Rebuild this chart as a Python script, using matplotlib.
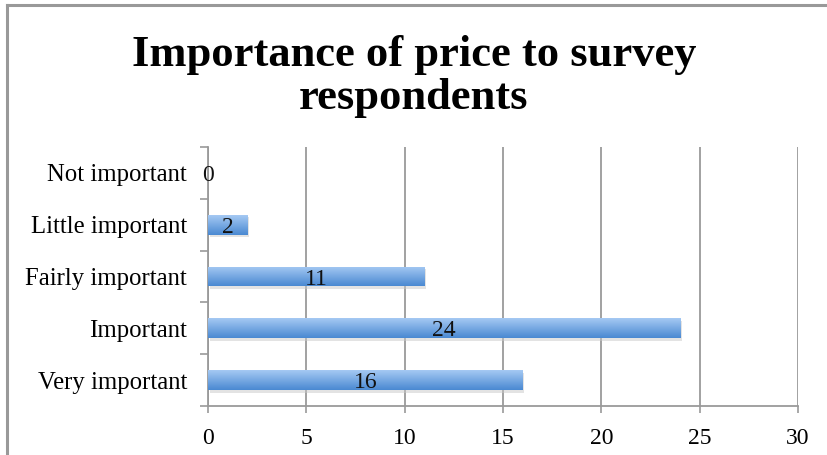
import numpy as np
import matplotlib.pyplot as plt
from matplotlib.colors import LinearSegmentedColormap
from matplotlib.lines import Line2D

plt.rcParams['font.family'] = ['Liberation Serif', 'DejaVu Serif']

# survey answers, bottom to top
categories = ['Very important', 'Important', 'Fairly important',
              'Little important', 'Not important']
counts = [16, 24, 11, 2, 0]
x_ticks = [0, 5, 10, 15, 20, 25, 30]

fig = plt.figure(figsize=(8.28, 4.55), dpi=100)
ax = fig.add_axes([0.2512, 0.1077, 0.7126, 0.5692])

pos = np.arange(len(categories))
bars = ax.barh(pos, counts, height=0.38, color='#6fa5e3', edgecolor='none', zorder=3)

# vertical light-to-dark blue shading inside each bar
blues = LinearSegmentedColormap.from_list('bar_blue', ['#4a89d2', '#a5c9f3'])
grad = np.linspace(0, 1, 64).reshape(-1, 1)
for b in bars:
    x0, y0 = b.get_x(), b.get_y()
    w, h = b.get_width(), b.get_height()
    if w <= 0:
        continue
    # faint drop shadow
    ax.add_patch(plt.Rectangle((x0 + 0.08, y0 - 0.05), w, h, color='#c8c8c8',
                               alpha=0.5, zorder=2, lw=0))
    im = ax.imshow(grad, cmap=blues, aspect='auto', origin='lower',
                   extent=(x0, x0 + w, y0, y0 + h), zorder=4)
    im.set_clip_path(b)

labels = ax.bar_label(bars, labels=[str(c) for c in counts], label_type='center',
                      fontsize=17, color='#111111', zorder=5)
for t in labels:
    t.set_verticalalignment('center_baseline')

ax.set_xlim(0, 30)
ax.set_ylim(-0.5, len(categories) - 0.5)
ax.set_xticks(x_ticks)
ax.set_yticks(pos)
ax.set_yticklabels(categories)
# boundary tick marks between categories
ax.set_yticks(np.arange(-0.5, len(categories), 1.0), minor=True)
ax.tick_params(axis='y', which='major', length=0, pad=15, labelsize=17.8)
ax.tick_params(axis='y', which='minor', length=6, width=1.2, color='#9a9a9a')
ax.tick_params(axis='x', length=5, width=1.2, color='#9a9a9a', pad=11, labelsize=17)

ax.grid(axis='x', color='#9a9a9a', linewidth=1.3, zorder=0)
ax.set_axisbelow(True)
for side in ['top', 'right']:
    ax.spines[side].set_visible(False)
for side in ['left', 'bottom']:
    ax.spines[side].set_color('#9a9a9a')
    ax.spines[side].set_linewidth(1.3)

fig.text(0.5, 0.832, 'Importance of price to survey\nrespondents', ha='center',
         va='center', fontsize=32, fontweight='bold', linespacing=1.12)

# outer chart frame (top and left edges)
fig.add_artist(Line2D([0.009, 1.0], [0.988, 0.988], color='#999999', lw=2.2))
fig.add_artist(Line2D([0.009, 0.009], [0.0, 0.988], color='#999999', lw=2.2))

fig.savefig('out.png', dpi=100)
